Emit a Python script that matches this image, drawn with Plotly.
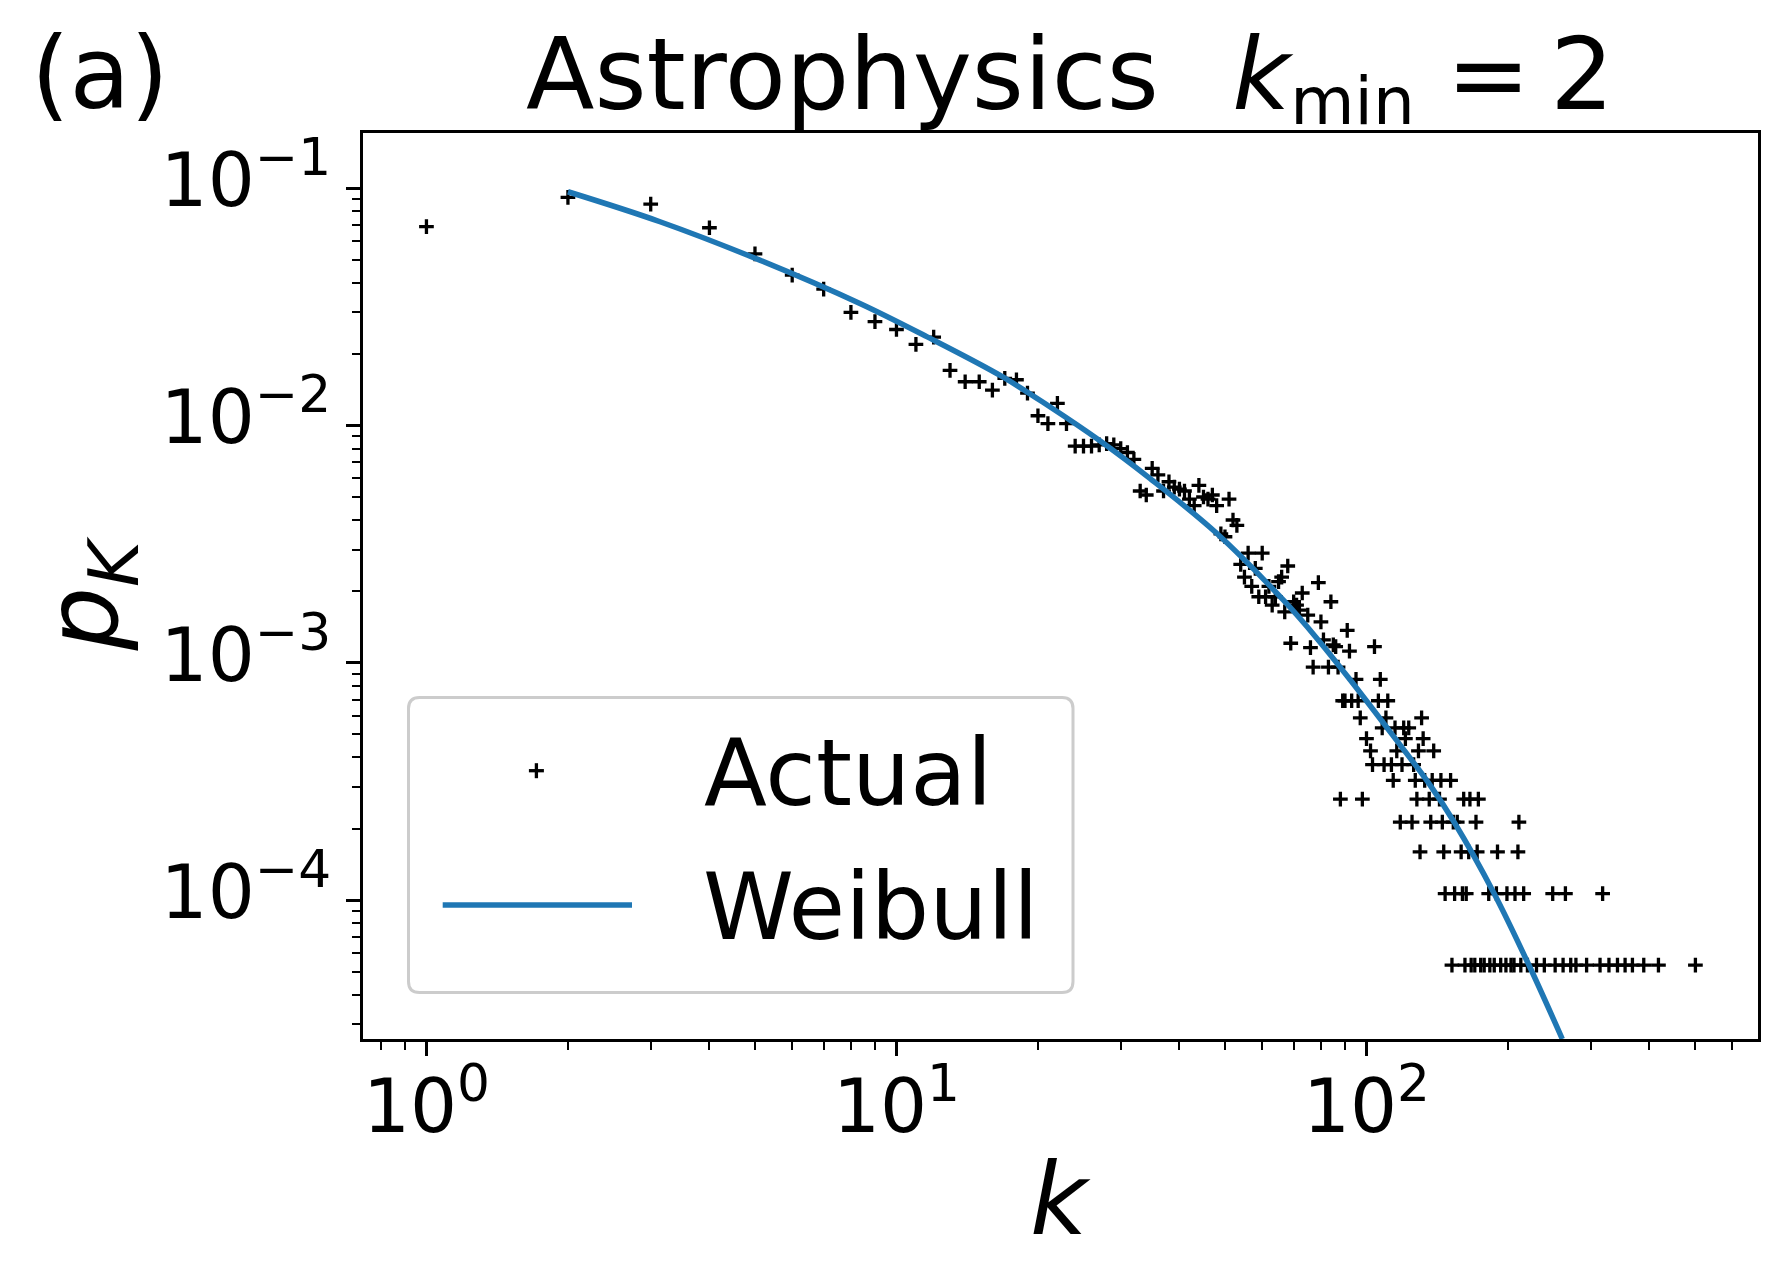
import plotly.graph_objects as go

# ---------------- data ----------------
N_NODES = 18772  # count of nodes -> one node = lowest row of points

k_head = [1, 2, 3, 4, 5, 6, 7, 8, 9, 10, 11, 12, 13, 14, 15, 16, 17, 18, 19, 20,
          21, 22, 23, 24, 25, 26, 27, 28, 29, 30, 31, 32, 33, 34, 35, 36, 37, 38, 39, 40,
          41, 42, 43, 44, 45, 46, 47, 48, 49, 50, 51, 52, 53, 54, 55, 56, 57, 58, 59, 60,
          61, 62, 63, 64, 65, 66, 67, 68, 69, 70, 71, 72, 73, 75, 76, 79, 80, 81, 84, 85,
          86, 91, 92, 104]
p_head = [0.0689, 0.0916, 0.0858, 0.0682, 0.0529, 0.0431, 0.0376, 0.0300, 0.0274, 0.0254,
          0.0220, 0.0236, 0.0171, 0.0153, 0.0153, 0.0141, 0.0158, 0.0156, 0.0137, 0.0110,
          0.0102, 0.0124, 0.0102, 0.0082, 0.0082, 0.0082, 0.0083, 0.0084, 0.0083, 0.0080,
          0.0077, 0.0072, 0.0053, 0.0051, 0.0066, 0.0062, 0.0053, 0.0058, 0.0055, 0.0054,
          0.0053, 0.0049, 0.0046, 0.0056, 0.0050, 0.0049, 0.0051, 0.0046, 0.0035, 0.0034,
          0.0049, 0.0040, 0.0038, 0.0026, 0.0023, 0.0029, 0.0021, 0.0025, 0.0019, 0.0029,
          0.0019, 0.0021, 0.00175, 0.0019, 0.0022, 0.0023, 0.00164, 0.00256, 0.00121, 0.00181,
          0.00175, 0.00167, 0.00197, 0.00159, 0.00116, 0.00218, 0.00149, 0.00125, 0.00181, 0.00119,
          0.00117, 0.00137, 0.00112, 0.00117]

# tail: degrees k grouped by how many nodes have that degree
tail_counts = [18, 16, 13, 11, 10, 9, 8, 7, 6, 5, 4, 3, 2, 1]
tail_k = [
    [77, 83, 87],
    [95, 107],
    [89, 90, 93, 96, 106, 111],
    [97, 110, 131],
    [108, 115, 120, 123],
    [100, 121, 132],
    [102, 116, 129, 139],
    [103, 109, 113, 119, 126],
    [114, 127, 133, 138, 144, 151],
    [88, 98, 128, 136, 143, 161, 166, 173],
    [118, 125, 137, 145, 153, 156, 171, 211],
    [130, 146, 159, 165, 172, 190, 210],
    [147, 154, 160, 163, 182, 189, 199, 207, 216, 249, 265, 318],
    [152, 162, 167, 170, 175, 178, 183, 187, 193, 198, 203, 206, 213, 220, 230, 239,
     252, 262, 272, 279, 294, 314, 328, 342, 355, 368, 389, 418, 501],
]

# Weibull fit curve
k_fit = [2, 3.14, 5.12, 8.36, 11.6, 16.8, 21.2, 27, 34.6, 48, 66.5, 78.3, 92.2, 112.2,
         136, 153.7, 187, 221.6, 261]
p_fit = [0.0967, 0.0723, 0.0498, 0.0327, 0.0237, 0.01607, 0.0120, 0.00867, 0.00599, 0.003516,
         0.001841, 0.001274, 0.000851, 0.000513, 0.000309, 0.000213, 0.0001065, 5.33e-5, 2.60e-5]

x_ticks = [1, 10, 100]
x_ticktext = ["10<sup>0</sup>", "10<sup>1</sup>", "10<sup>2</sup>"]
y_ticks = [1e-4, 1e-3, 1e-2, 1e-1]
y_ticktext = ["10<sup>\u22124</sup>", "10<sup>\u22123</sup>", "10<sup>\u22122</sup>", "10<sup>\u22121</sup>"]

# ---------------- build figure ----------------
k_all = list(k_head)
p_all = list(p_head)
for c, ks in zip(tail_counts, tail_k):
    for k in ks:
        k_all.append(k)
        p_all.append(c / N_NODES)

FONT = "DejaVu Sans"
OFF = 8                      # default page margin of the html body
PL, PR, PT, PB = 363, 1758, 133, 1039   # plot area in window pixels
W, H = 1788 - OFF, 1285 - OFF
L, T = PL - OFF, PT - OFF
R = 1788 - PR
B = H - (PB - OFF)
PW, PH = PR - PL, PB - PT


def px(x):
    return (x - PL) / PW


def py(y):
    return (PB - y) / PH


fig = go.Figure()
fig.add_trace(go.Scatter(
    x=k_all, y=p_all, mode="markers", name="Actual",
    marker=dict(symbol="cross-thin", size=10.5, color="black",
                line=dict(color="black", width=3.3)),
    showlegend=False,
))
fig.add_trace(go.Scatter(
    x=k_fit, y=p_fit, mode="lines", name="Weibull",
    line=dict(color="#1f77b4", width=5.5, shape="spline", smoothing=1.0),
    showlegend=False,
))

minor_x = [v * 10 ** e for e in (-1, 0, 1, 2) for v in range(2, 10)]
minor_x = [v for v in minor_x if 0.73 < v < 680]
minor_y = [v * 10.0 ** e for e in (-5, -4, -3, -2, -1) for v in range(2, 10)]
minor_y = [v for v in minor_y if 2.6e-5 < v < 0.17]

axis_common = dict(
    showline=True, linecolor="black", linewidth=3.2, mirror=True,
    ticks="outside", ticklen=14, tickwidth=3.2, tickcolor="black",
    showgrid=False, zeroline=False,
    tickfont=dict(family=FONT, size=74, color="black"),
)

fig.update_xaxes(
    type="log", range=[-0.135, 2.833],
    tickmode="array", tickvals=x_ticks, ticktext=x_ticktext,
    ticklabelstandoff=-13,
    minor=dict(tickmode="array", tickvals=minor_x, ticks="outside",
               ticklen=8, tickwidth=2.4, tickcolor="black"),
    **axis_common,
)
fig.update_yaxes(
    type="log", range=[-4.585, -0.767],
    tickmode="array", tickvals=y_ticks, ticktext=y_ticktext,
    ticklabelshift=-8,
    minor=dict(tickmode="array", tickvals=minor_y, ticks="outside",
               ticklen=8, tickwidth=2.4, tickcolor="black"),
    **axis_common,
)

# legend box (rounded) drawn by hand
bx0, by0, bx1, by1, rad = 408.5, 697.5, 1073, 992.5, 11
rx, ry = rad / PW, rad / PH
X0, X1, Y0, Y1 = px(bx0), px(bx1), py(by1), py(by0)
path = (f"M {X0 + rx},{Y1} L {X1 - rx},{Y1} Q {X1},{Y1} {X1},{Y1 - ry} "
        f"L {X1},{Y0 + ry} Q {X1},{Y0} {X1 - rx},{Y0} L {X0 + rx},{Y0} "
        f"Q {X0},{Y0} {X0},{Y0 + ry} L {X0},{Y1 - ry} Q {X0},{Y1} {X0 + rx},{Y1} Z")
mx, my, ms = 536.4, 770.7, 7.5
shapes = [
    dict(type="path", xref="paper", yref="paper", path=path,
         fillcolor="rgba(255,255,255,0.8)", line=dict(color="#cccccc", width=3), layer="above"),
    dict(type="line", xref="paper", yref="paper", x0=px(442.7), x1=px(632), y0=py(905), y1=py(905),
         line=dict(color="#1f77b4", width=5.5), layer="above"),
    dict(type="line", xref="paper", yref="paper", x0=px(mx - ms), x1=px(mx + ms),
         y0=py(my), y1=py(my), line=dict(color="black", width=3.3), layer="above"),
    dict(type="line", xref="paper", yref="paper", x0=px(mx), x1=px(mx),
         y0=py(my - ms), y1=py(my + ms), line=dict(color="black", width=3.3), layer="above"),
]

title_text = ("Astrophysics\u00a0\u00a0\u200a<i>k</i>"
              "<span style=\"font-size:66px;baseline-shift:-15px\">min</span>"
              "\u00a0=\u20092")

annotations = [
    dict(text=title_text,
         x=px(1070), y=py(14.8), xref="paper", yref="paper",
         xanchor="center", yanchor="top", showarrow=False,
         font=dict(family=FONT, size=100, color="black"), borderpad=0),
    dict(text="(a)", x=px(30), y=py(14.8), xref="paper", yref="paper",
         xanchor="left", yanchor="top", showarrow=False,
         font=dict(family=FONT, size=99, color="black"), borderpad=0),
    dict(text="<i>k</i>", x=px(1060), y=py(1141), xref="paper", yref="paper",
         xanchor="center", yanchor="top", showarrow=False,
         font=dict(family=FONT, size=99, color="black"), borderpad=0),
    dict(text="<i>p</i><sub><i>K</i></sub>", x=px(88.5), y=py(594), xref="paper", yref="paper",
         xanchor="center", yanchor="middle", showarrow=False, textangle=-90,
         font=dict(family=FONT, size=100, color="black"), borderpad=0),
    dict(text="Actual", x=px(703), y=py(804 - 0.928 * 92), xref="paper", yref="paper",
         xanchor="left", yanchor="top", showarrow=False,
         font=dict(family=FONT, size=92, color="black"), borderpad=0),
    dict(text="Weibull", x=px(702), y=py(938.3 - 0.928 * 92), xref="paper", yref="paper",
         xanchor="left", yanchor="top", showarrow=False,
         font=dict(family=FONT, size=92, color="black"), borderpad=0),
]

fig.update_layout(
    width=W, height=H,
    margin=dict(l=L, r=R, t=T, b=B, pad=0),
    paper_bgcolor="white", plot_bgcolor="white",
    showlegend=False,
    font=dict(family=FONT, color="black"),
    shapes=shapes, annotations=annotations,
)

fig.write_html("out.html")
